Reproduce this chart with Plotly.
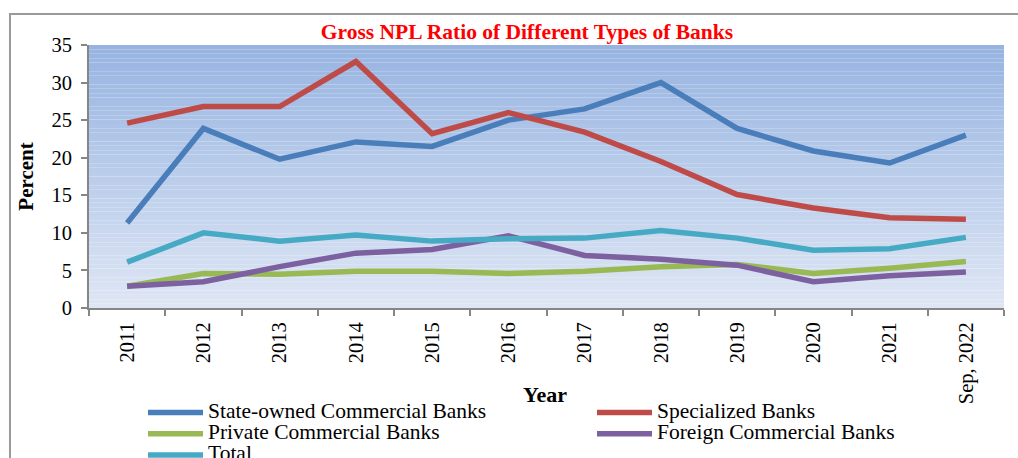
import plotly.graph_objects as go

years = ["2011", "2012", "2013", "2014", "2015", "2016", "2017", "2018", "2019", "2020", "2021", "Sep, 2022"]
state_owned = [11.3, 23.9, 19.8, 22.1, 21.5, 25.0, 26.5, 30.0, 23.9, 20.9, 19.3, 23.0]
specialized = [24.6, 26.8, 26.8, 32.8, 23.2, 26.0, 23.4, 19.5, 15.1, 13.3, 12.0, 11.8]
private = [2.9, 4.6, 4.5, 4.9, 4.9, 4.6, 4.9, 5.5, 5.8, 4.6, 5.3, 6.2]
foreign = [2.9, 3.5, 5.5, 7.3, 7.8, 9.6, 7.0, 6.5, 5.7, 3.5, 4.3, 4.8]
total = [6.1, 10.0, 8.9, 9.7, 8.9, 9.2, 9.3, 10.3, 9.3, 7.7, 7.9, 9.4]

series = [
    ("State-owned Commercial Banks", state_owned, "#4A7EBB", "legend"),
    ("Specialized Banks", specialized, "#BE4B48", "legend2"),
    ("Private Commercial Banks", private, "#98B954", "legend"),
    ("Foreign Commercial Banks", foreign, "#7D60A0", "legend2"),
    ("Total", total, "#46AAC5", "legend"),
]

W, H = 1018, 458
L, R, T, B = 89, 14, 45, 150
pw, ph = W - L - R, H - T - B

def px_x(p):
    return (p - L) / pw

def px_y(p):
    return (H - B - p) / ph

font = "Liberation Serif, Times New Roman, serif"

fig = go.Figure()
for name, vals, col, lg in series:
    fig.add_trace(go.Scatter(
        x=years, y=vals, mode="lines", legend=lg,
        name='<span style="font-size:21.5px">%s</span>' % name,
        line=dict(color=col, width=5.5)))

# gradient background strips
shapes = []
n = 60
top = (0x97, 0xB4, 0xE1)
bot = (0xDE, 0xE6, 0xF4)
for i in range(n):
    t = i / (n - 1)
    c = tuple(round(top[k] + (bot[k] - top[k]) * t) for k in range(3))
    shapes.append(dict(type="rect", xref="x domain", yref="y domain",
                       x0=0, x1=1, y0=1 - (i + 1) / n, y1=1 - i / n,
                       fillcolor="rgb(%d,%d,%d)" % c, line=dict(width=0), layer="below"))
# outer frame
shapes.append(dict(type="rect", xref="paper", yref="paper",
                   x0=px_x(10), x1=px_x(1030), y0=px_y(470), y1=px_y(14),
                   line=dict(color="#9A9A9A", width=2), fillcolor="rgba(0,0,0,0)"))

legend_common = dict(orientation="v", xanchor="left", yanchor="top",
                     itemwidth=55, font=dict(family=font, size=14, color="black"),
                     bgcolor="rgba(0,0,0,0)", tracegroupgap=0, traceorder="normal")

fig.update_layout(
    width=W, height=H,
    margin=dict(l=L, r=R, t=T, b=B, autoexpand=False),
    paper_bgcolor="white", plot_bgcolor="rgba(0,0,0,0)",
    font=dict(family=font, color="black", size=20),
    title=dict(text="<b>Gross NPL Ratio of Different Types of Banks</b>",
               font=dict(family=font, size=21.5, color="#FF0000"),
               x=527 / W, xanchor="center", xref="container",
               y=1 - 31 / H, yanchor="middle", yref="container"),
    shapes=shapes,
    showlegend=True,
    legend=dict(x=px_x(143), y=px_y(397), **legend_common),
    legend2=dict(x=px_x(592), y=px_y(397), **legend_common),
    annotations=[dict(text="<b>Year</b>", xref="paper", yref="paper",
                      x=px_x(545), y=px_y(394), xanchor="center", yanchor="middle",
                      showarrow=False,
                      font=dict(family=font, size=22, color="black"))],
)
fig.update_xaxes(type="category", range=[-0.5, len(years) - 0.5],
                 showline=True, linecolor="#868686", linewidth=2,
                 ticks="outside", ticklen=6, tickcolor="#868686", tickwidth=2,
                 tickson="boundaries", tickangle=-90, showgrid=False, zeroline=False,
                 ticklabelstandoff=4,
                 tickfont=dict(family=font, size=20.5, color="black"))
fig.update_yaxes(range=[0, 35], dtick=5, showline=True, linecolor="#868686", linewidth=2,
                 ticks="outside", ticklen=6, tickcolor="#868686", tickwidth=2,
                 showgrid=False, zeroline=False, ticklabelstandoff=5,
                 tickfont=dict(family=font, size=20.5, color="black"),
                 title=dict(text="<b>Percent</b>", standoff=12,
                            font=dict(family=font, size=21, color="black")))

fig.write_html("out.html")
